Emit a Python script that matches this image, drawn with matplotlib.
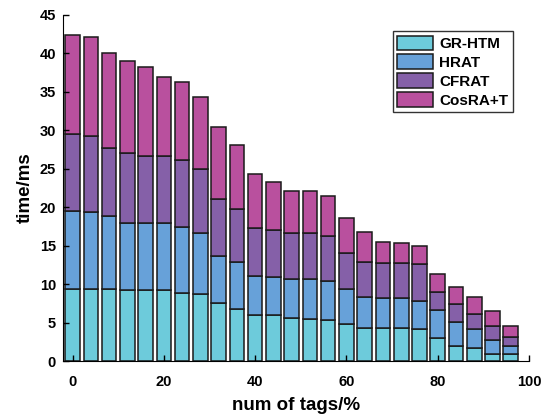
import matplotlib
matplotlib.use("Agg")
import matplotlib.pyplot as plt
import numpy as np

plt.rcParams['font.family'] = ['Liberation Sans', 'DejaVu Sans']

tags = [0, 4, 8, 12, 16, 20, 24, 28, 32, 36, 40, 44, 48, 52, 56, 60, 64, 68, 72, 76, 80, 84, 88, 92, 96]
# cumulative tops
gr_top = [9.4, 9.4, 9.3, 9.2, 9.2, 9.2, 8.9, 8.7, 7.6, 6.8, 5.96, 5.96, 5.6, 5.4, 5.3, 4.8, 4.3, 4.3, 4.3, 4.2, 3.0, 1.9, 1.75, 0.95, 0.95]
hr_top = [19.5, 19.35, 18.8, 18.0, 17.96, 17.96, 17.4, 16.6, 13.7, 12.9, 11.1, 10.9, 10.6, 10.6, 10.4, 9.4, 8.35, 8.2, 8.2, 7.8, 6.6, 5.1, 4.2, 2.75, 2.0]
cf_top = [29.5, 29.3, 27.7, 27.0, 26.65, 26.65, 26.1, 25.0, 21.1, 19.8, 17.3, 17.1, 16.6, 16.6, 16.2, 14.0, 12.9, 12.7, 12.7, 12.6, 9.0, 7.35, 6.05, 4.55, 3.15]
total = [42.4, 42.2, 40.1, 38.96, 38.3, 37.0, 36.35, 34.4, 30.4, 28.1, 24.3, 23.3, 22.15, 22.15, 21.4, 18.6, 16.8, 15.5, 15.3, 15.0, 11.35, 9.6, 8.3, 6.55, 4.6]

labels = ['GR-HTM', 'HRAT', 'CFRAT', 'CosRA+T']
colors = ['#6dcbdb', '#67a1d9', '#8560a8', '#b9509e']

gr = np.array(gr_top)
hr = np.array(hr_top) - gr
cf = np.array(cf_top) - np.array(hr_top)
cs = np.array(total) - np.array(cf_top)

fig = plt.figure(figsize=(5.47, 4.15), dpi=100)
ax = fig.add_axes([63/547, 54/415, (529-63)/547, (361-15)/415])

series = [gr, hr, cf, cs]
bottom = np.zeros(len(tags))
for vals, lab, col in zip(series, labels, colors):
    ax.bar(tags, vals, width=3.2, bottom=bottom, color=col, edgecolor='#1a1a1a',
           linewidth=1.1, label=lab)
    bottom = bottom + vals

ax.set_xlim(-2.1, 100)
ax.set_ylim(0, 45)
ax.set_xticks([0, 20, 40, 60, 80, 100])
ax.set_yticks(range(0, 46, 5))
ax.spines['top'].set_visible(False)
ax.spines['right'].set_visible(False)
ax.tick_params(direction='in', length=4, width=1, labelsize=10.5)
for t in ax.get_xticklabels() + ax.get_yticklabels():
    t.set_fontweight('bold')
ax.tick_params(axis='x', pad=10)
ax.tick_params(axis='y', pad=5)
ax.set_xlabel('num of tags/%', fontsize=13.5, fontweight='bold', labelpad=6)
ax.set_ylabel('time/ms', fontsize=13.5, fontweight='bold', labelpad=4)

leg = ax.legend(loc='upper right', bbox_to_anchor=(1 - 16/466, 1 - 16/346),
                prop={'weight': 'bold', 'size': 11},
                handlelength=2.35, handleheight=1.1, labelspacing=0.22,
                handletextpad=0.4, borderpad=0.3, fancybox=False,
                edgecolor='#333333', framealpha=1, borderaxespad=0)
leg.get_frame().set_linewidth(1.0)

fig.savefig('out.png', dpi=100)
